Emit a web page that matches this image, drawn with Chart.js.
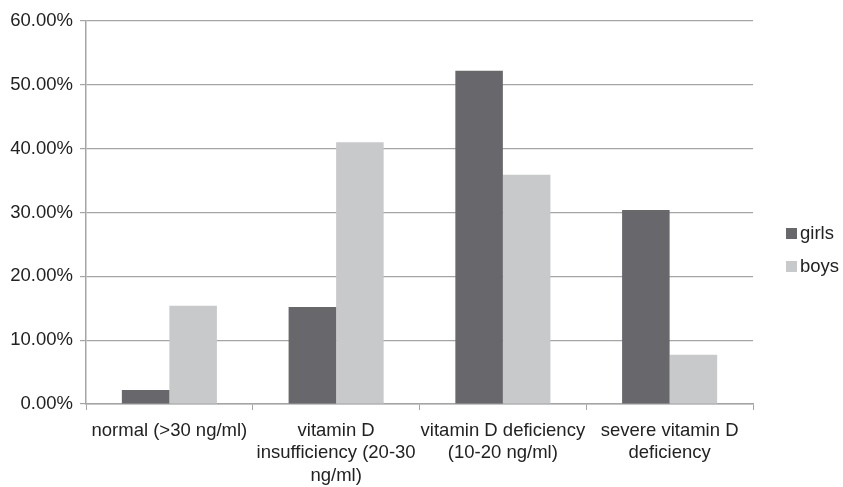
<!DOCTYPE html>
<html>
<head>
<meta charset="utf-8">
<script src="https://cdn.jsdelivr.net/npm/chart.js@4.4.0/dist/chart.umd.min.js"></script>
<style>
    html, body { margin: 0; padding: 0; background: #fff; }
    #wrap { width: 843px; height: 487px; }
</style>
</head>
<body>
<div id="wrap"><canvas id="chart" width="843" height="487"></canvas></div>
<script>
// Chart data
const categories = [
    'normal (>30 ng/ml)',
    ['vitamin D', 'insufficiency (20-30', 'ng/ml)'],
    ['vitamin D deficiency', '(10-20 ng/ml)'],
    ['severe vitamin D', 'deficiency']
];
const girls = [2.2, 15.2, 52.2, 30.4];
const boys = [15.4, 41.0, 35.9, 7.7];
const yTicks = [0, 10, 20, 30, 40, 50, 60];

const FONT = 'Liberation Sans, Arial, sans-serif';
const FONT_SIZE = 18.5;
const GRID = '#a5a5a8';

// Legend drawn at the right, like the original
const sideLegend = {
    id: 'sideLegend',
    afterDraw(chart) {
        const ctx = chart.ctx;
        const x = 786;
        let y = 233;
        ctx.save();
        ctx.font = FONT_SIZE + 'px ' + FONT;
        ctx.textBaseline = 'middle';
        chart.data.datasets.forEach(ds => {
            ctx.fillStyle = ds.backgroundColor;
            ctx.fillRect(x, y - 5, 11, 11);
            ctx.fillStyle = '#222';
            ctx.fillText(ds.label, x + 14, y + 1);
            y += 33;
        });
        ctx.restore();
    }
};

const ctx = document.getElementById('chart').getContext('2d');
new Chart(ctx, {
    type: 'bar',
    data: {
        labels: categories,
        datasets: [
            { label: 'girls', data: girls, backgroundColor: '#68686c' },
            { label: 'boys', data: boys, backgroundColor: '#c8c9cb' }
        ]
    },
    options: {
        responsive: false,
        animation: false,
        layout: { padding: { top: 21, right: 90, left: 0, bottom: 0 } },
        plugins: {
            legend: { display: false },
            tooltip: { enabled: false }
        },
        datasets: {
            bar: { categoryPercentage: 0.57, barPercentage: 1.0 }
        },
        scales: {
            x: {
                offset: true,
                afterFit(scale) {
                    scale.height = 83;
                },
                grid: {
                    offset: true,
                    drawOnChartArea: false,
                    drawTicks: true,
                    tickLength: 6,
                    color: GRID
                },
                border: { color: GRID, width: 1.5 },
                ticks: {
                    color: '#222',
                    font: { family: FONT, size: FONT_SIZE, lineHeight: 1.2 },
                    padding: 10,
                    maxRotation: 0,
                    autoSkip: false
                }
            },
            y: {
                min: 0,
                max: 60,
                afterBuildTicks(scale) {
                    scale.ticks = yTicks.map(v => ({ value: v }));
                },
                afterFit(scale) {
                    scale.width = 86;
                },
                grid: {
                    color: GRID,
                    lineWidth: 1.2,
                    drawTicks: true,
                    tickLength: 6
                },
                border: { color: GRID, width: 1.5 },
                ticks: {
                    color: '#222',
                    font: { family: FONT, size: FONT_SIZE },
                    padding: 7,
                    callback: v => v.toFixed(2) + '%'
                }
            }
        }
    },
    plugins: [sideLegend]
});
</script>
</body>
</html>
